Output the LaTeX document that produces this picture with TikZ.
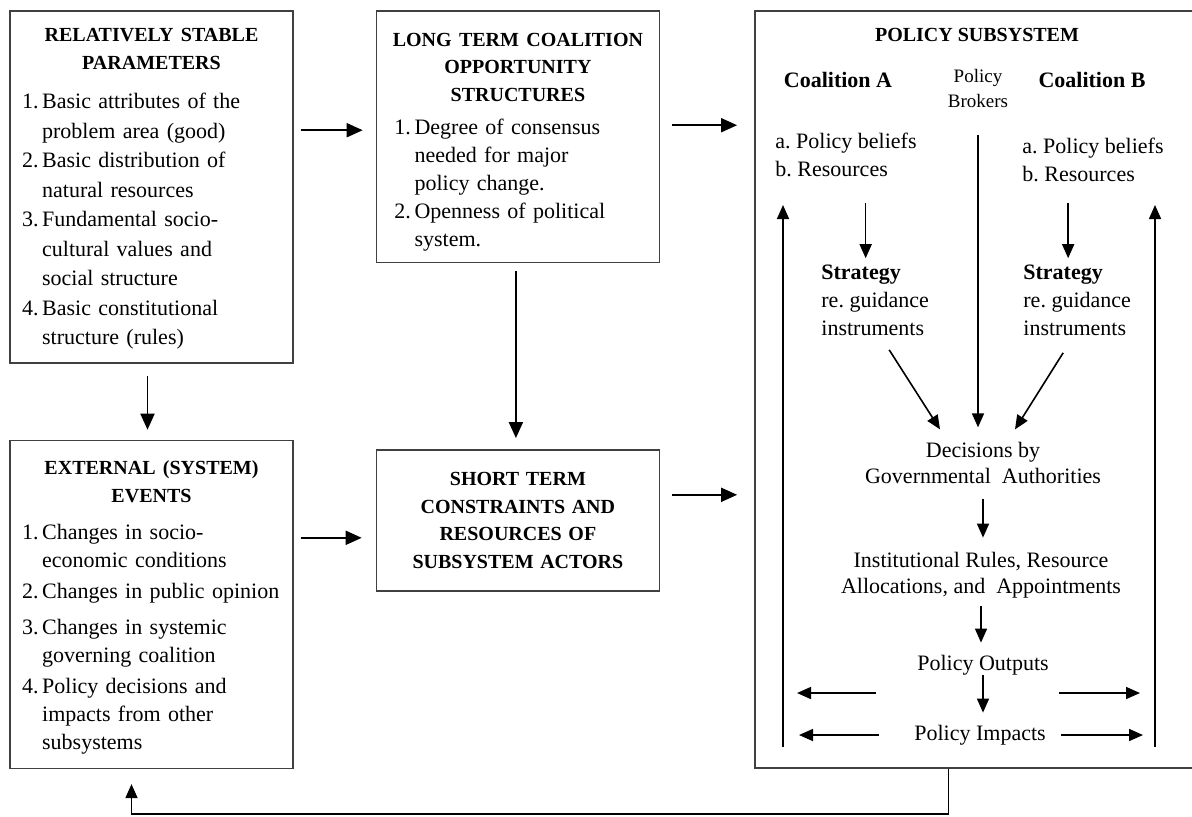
\documentclass[tikz,border=0pt]{standalone}
\usepackage{fontspec}
\setmainfont{Liberation Serif}
\usetikzlibrary{arrows.meta,positioning}
\frenchspacing

\newcommand{\bodyfont}{\fontsize{11}{14}\selectfont}
\newcommand{\listfont}{\fontsize{11}{14.5}\selectfont}
\newcommand{\headfont}{\fontsize{10}{13.75}\selectfont\bfseries}

\begin{document}
\begin{tikzpicture}[
    x=0.5pt, y=-0.5pt,
    box/.style={draw=black!75, line width=0.7pt, inner xsep=0pt, inner ysep=4pt,
      text width=141.5pt, align=left, font=\listfont},
    lbl/.style={inner sep=0pt, font=\bodyfont, align=left},
    arr/.style={-{Triangle[length=8pt,width=7pt]}, line width=0.9pt},
    sarr/.style={-{Triangle[length=7pt,width=6pt]}, line width=0.8pt}]
  \useasboundingbox (0,0) rectangle (1192,816);

  % outer boxes
  \node[box, minimum height=176pt] (stable) at (151.5,187) {%
    {\centering\headfont\rule{0pt}{10.6pt}RELATIVELY STABLE\\PARAMETERS\par}\vspace{8.5pt}
    \hspace*{6pt}{\fontsize{11}{14.75}\selectfont\begin{tabular}{@{}l@{\,}l@{}}
      1.&Basic attributes of the\\ &problem area (good)\\
      2.&Basic distribution of\\ &natural resources\\
      3.&Fundamental socio-\\ &cultural values and\\ &social structure\\
      4.&Basic constitutional\\ &structure (rules)
    \end{tabular}}};
  \node[box, minimum height=125.5pt, right=41pt of stable.north east, anchor=north west] (longterm) {%
    {\centering\headfont\rule{0pt}{13.6pt}LONG TERM COALITION\\OPPORTUNITY\\STRUCTURES\par}\vspace{5.5pt}
    \hspace*{9pt}{\fontsize{11}{14}\selectfont\begin{tabular}{@{}l@{\,}l@{}}
      1.&Degree of consensus\\ &needed for major\\ &policy change.\\
      2.&Openness of political\\ &system.
    \end{tabular}}};
  \node[draw=black!75, line width=0.7pt, inner sep=0pt, minimum width=219.5pt, minimum height=378.5pt,
    right=47pt of longterm.north east, anchor=north west] (subsys) {};
  \node[box, minimum height=164pt, below=38pt of stable] (external) {%
    {\centering\headfont\rule{0pt}{11.9pt}EXTERNAL (SYSTEM)\\EVENTS\par}\vspace{7.5pt}
    \hspace*{6pt}{\fontsize{11}{14}\selectfont\begin{tabular}{@{}l@{\,}l@{}}
      1.&Changes in socio-\\ &economic conditions\\[1.5pt]
      2.&Changes in public opinion\\[4pt]
      3.&Changes in systemic\\ &governing coalition\\[1.5pt]
      4.&Policy decisions and\\ &impacts from other\\ &subsystems
    \end{tabular}}};
  \node[box, align=center, font=\headfont, minimum height=70.5pt, below=93pt of longterm] (shortterm)
    {SHORT TERM\\CONSTRAINTS AND\\RESOURCES OF\\SUBSYSTEM ACTORS};

  % inside the policy subsystem
  \node[inner sep=0pt, font=\headfont] (pstitle) at (977,35) {POLICY SUBSYSTEM};
  \node[lbl, font=\bodyfont\bfseries] (coalA) at (838,80) {Coalition A};
  \node[lbl, align=center, font=\fontsize{9.5}{12.5}\selectfont] (brokers) at (978,88) {Policy\\Brokers};
  \node[lbl, font=\bodyfont\bfseries] (coalB) at (1092,80) {Coalition B};
  \node[lbl, anchor=west] (beliefsA) at (775,155) {a. Policy beliefs\\b. Resources};
  \node[lbl, anchor=west] (beliefsB) at (1022,159.5) {a. Policy beliefs\\b. Resources};
  \node[lbl, anchor=west] (stratA) at (821,300) {\textbf{Strategy}\\re. guidance\\instruments};
  \node[lbl, anchor=west] (stratB) at (1023,300) {\textbf{Strategy}\\re. guidance\\instruments};
  \node[lbl, align=center, font=\fontsize{11}{13}\selectfont] (decisions) at (983,462.5)
    {Decisions by\\Governmental~ Authorities};
  \node[lbl, align=center, font=\fontsize{11}{13}\selectfont] (rules) at (981,575)
    {Institutional Rules, Resource\\Allocations, and~ Appointments};
  \node[lbl] (outputs) at (983,665) {Policy Outputs};
  \node[lbl] (impacts) at (980,735) {Policy Impacts};
  \coordinate (loopA) at (783,747);
  \coordinate (loopAtop) at (783,205);
  \coordinate (loopB) at (1155,747);
  \coordinate (loopBtop) at (1155,205);

  % connectors between boxes
  \draw[arr, shorten <=3.5pt, shorten >=6.5pt] ([yshift=3.25pt]longterm.west -| stable.east) -- ([yshift=3.25pt]longterm.west);
  \draw[arr, shorten <=6pt, shorten >=8.5pt] ([yshift=5.75pt]longterm.east) -- ([yshift=5.75pt]longterm.east -| subsys.west);
  \draw[arr, shorten <=6pt, shorten >=5pt] ([xshift=-2pt]stable.south) -- ([xshift=-2pt]external.north);
  \draw[arr, shorten <=4pt, shorten >=5.5pt] ([xshift=-1pt]longterm.south) -- ([xshift=-1pt]shortterm.north);
  \draw[arr, shorten <=3.5pt, shorten >=7pt] ([yshift=-8.75pt]shortterm.west -| external.east) -- ([yshift=-8.75pt]shortterm.west);
  \draw[arr, shorten <=6pt, shorten >=8.5pt] ([yshift=12.75pt]shortterm.east) -- ([yshift=12.75pt]shortterm.east -| subsys.west);
  \draw[sarr, shorten >=7.5pt] ([xshift=-13pt]subsys.south) -- ++(0,45) -| ([xshift=-10pt]external.south);

  % connectors inside the subsystem
  \draw[sarr, shorten <=13pt, shorten >=3pt] ([xshift=-4.75pt]stratA.north |- beliefsA.south) -- ([xshift=-4.75pt]stratA.north);
  \draw[sarr, shorten <=10.5pt, shorten >=3pt] ([xshift=-4.5pt]stratB.north |- beliefsB.south) -- ([xshift=-4.5pt]stratB.north);
  \draw[sarr, shorten <=13.5pt, shorten >=7pt] (brokers.south) -- (brokers.south |- decisions.north);
  \draw[sarr] ([xshift=7pt,yshift=-7pt]stratA.south) -- ([xshift=-21.5pt,yshift=6pt]decisions.north);
  \draw[sarr] ([xshift=-7pt,yshift=-8.5pt]stratB.south) -- ([xshift=16pt,yshift=6pt]decisions.north);
  \draw[sarr, shorten <=7.5pt, shorten >=7pt] (decisions.south) -- (decisions.south |- rules.north);
  \draw[sarr, shorten <=4pt, shorten >=6pt] (rules.south) -- (rules.south |- outputs.north);
  \draw[sarr, shorten >=6pt] (outputs.south) -- (outputs.south |- impacts.north);
  \draw[sarr] (loopA) -- (loopAtop);
  \draw[sarr] (loopB) -- (loopBtop);
  \draw[sarr, shorten <=19pt, shorten >=7pt] ([yshift=21pt]impacts.west) -- ([yshift=21pt]impacts.west -| loopA);
  \draw[sarr, shorten <=17.5pt, shorten >=8pt] (impacts.west) -- (impacts.west -| loopA);
  \draw[sarr, shorten <=6.5pt, shorten >=7.5pt] ([yshift=21pt]impacts.east) -- ([yshift=21pt]impacts.east -| loopB);
  \draw[sarr, shorten <=7.5pt, shorten >=6pt] (impacts.east) -- (impacts.east -| loopB);
\end{tikzpicture}
\end{document}
